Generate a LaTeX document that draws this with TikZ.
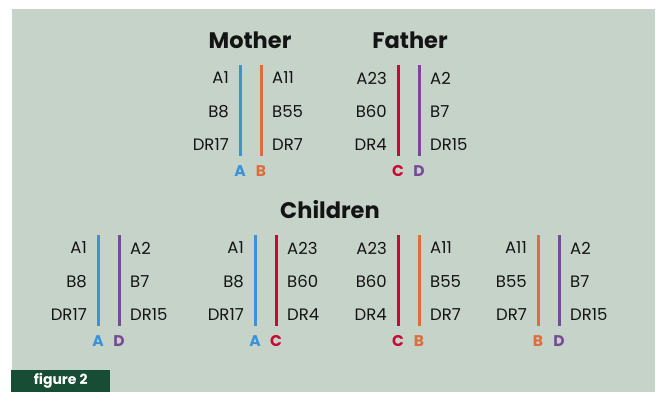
\documentclass[tikz,border=0pt]{standalone}
\usepackage{fontspec}
\setmainfont{Poppins}
\definecolor{panel}{RGB}{197,211,201}
\definecolor{boxgreen}{RGB}{22,77,52}
\definecolor{ink}{RGB}{20,20,20}
\definecolor{hapA}{RGB}{58,146,216}
\definecolor{hapB}{RGB}{221,110,60}
\definecolor{hapC}{RGB}{200,8,52}
\definecolor{hapD}{RGB}{122,72,152}
% one parent / child: two haplotype bars with their alleles
\newcommand\pair[9]{%
  \draw[hapline,#4] (#2,#3) -- ++(0,91);
  \draw[hapline,#5] ({#2+21},#3) -- ++(0,91);
  \foreach \t [count=\i] in {#8}
    \node[allele,anchor=east] (#1l\i) at ({#2-11},{#3+13+33.5*(\i-1)}) {\t};
  \foreach \t [count=\i] in {#9}
    \node[allele,anchor=west] (#1r\i) at ({#2+32},{#3+13+33.5*(\i-1)}) {\t};
  \node[letter,text=#4] (#1a) at (#2,{#3+106}) {#6};
  \node[letter,text=#5] (#1b) at ({#2+21},{#3+106}) {#7};
}

\begin{document}
\begin{tikzpicture}[x=1pt,y=-1pt,
    hapline/.style={line width=3pt},
    allele/.style={font=\fontsize{16.5}{19}\selectfont,text=ink,inner sep=0pt},
    letter/.style={font=\fontsize{15.5}{18}\selectfont\bfseries,inner sep=0pt},
    title/.style={font=\fontsize{22.5}{26}\selectfont\bfseries,text=ink,inner sep=0pt}]
  \useasboundingbox (0,0) rectangle (657,392);
  \fill[panel] (12,9) rectangle (655,392);

  \node[title] (mother) at (250,40) {Mother};
  \node[title] (father) at (410,40) {Father};
  \node[title] (children) at (330,210) {Children};

  \pair{mo}{240}{65}{hapA}{hapB}{A}{B}{A1,B8,DR17}{A11,B55,DR7}
  \pair{fa}{398}{65}{hapC}{hapD}{C}{D}{A23,B60,DR4}{A2,B7,DR15}

  \pair{ca}{98}{235}{hapA}{hapD}{A}{D}{A1,B8,DR17}{A2,B7,DR15}
  \pair{cb}{255}{235}{hapA}{hapC}{A}{C}{A1,B8,DR17}{A23,B60,DR4}
  \pair{cc}{398}{235}{hapC}{hapB}{C}{B}{A23,B60,DR4}{A11,B55,DR7}
  \pair{cd}{538}{235}{hapB}{hapD}{B}{D}{A11,B55,DR7}{A2,B7,DR15}

  \node[fill=boxgreen,text=white,font=\fontsize{14}{16}\selectfont\bfseries,
        minimum width=99pt,minimum height=22pt,inner sep=0pt,anchor=north west]
        (fig) at (11,370) {figure 2};
\end{tikzpicture}
\end{document}
